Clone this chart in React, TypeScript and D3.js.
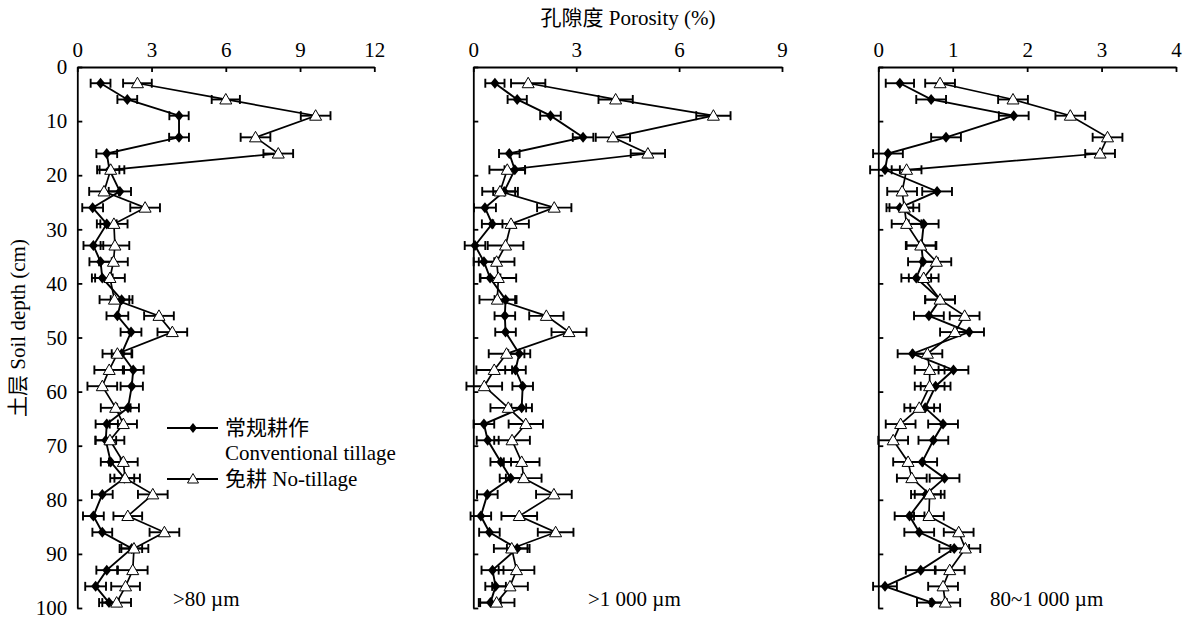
import React, { useEffect, useRef } from 'react';
import * as d3 from 'd3';

// profondeur des échantillons (cm)
const depths = [3, 6, 9, 13, 16, 19, 23, 26, 29, 33, 36, 39, 43, 46, 49, 53, 56, 59, 63, 66, 69, 73, 76, 79, 83, 86, 89, 93, 96, 99];

// >80 µm
const p1Conv = [0.94, 2.02, 4.11, 4.11, 1.19, 1.3, 1.72, 0.62, 1.19, 0.65, 0.94, 1.01, 1.79, 1.62, 2.17, 1.79, 2.26, 2.2, 2.05, 1.19, 1.15, 1.35, 1.9, 1.01, 0.65, 1.01, 2.2, 1.19, 0.74, 1.28];
const p1ConvErr = [0.4, 0.4, 0.39, 0.4, 0.42, 0.4, 0.45, 0.42, 0.4, 0.4, 0.45, 0.42, 0.44, 0.44, 0.42, 0.4, 0.42, 0.45, 0.44, 0.45, 0.42, 0.4, 0.4, 0.42, 0.42, 0.4, 0.42, 0.42, 0.42, 0.4];
const p1NT = [2.43, 6.0, 9.63, 7.2, 8.12, 1.35, 1.08, 2.74, 1.48, 1.52, 1.46, 1.32, 1.5, 3.3, 3.84, 1.62, 1.29, 1.01, 1.55, 1.86, 1.32, 1.86, 1.93, 3.05, 2.04, 3.52, 2.29, 2.24, 1.95, 1.59];
const p1NTErr = [0.58, 0.57, 0.6, 0.6, 0.6, 0.55, 0.6, 0.6, 0.55, 0.58, 0.58, 0.6, 0.6, 0.6, 0.6, 0.6, 0.6, 0.6, 0.6, 0.55, 0.58, 0.58, 0.6, 0.6, 0.58, 0.6, 0.58, 0.6, 0.58, 0.58];

// >1 000 µm
const p2Conv = [0.63, 1.28, 2.25, 3.2, 1.05, 1.21, 0.9, 0.34, 0.55, 0.05, 0.31, 0.49, 0.94, 0.92, 0.94, 1.34, 1.23, 1.44, 1.41, 0.31, 0.42, 0.8, 1.09, 0.41, 0.22, 0.47, 1.28, 0.56, 0.65, 0.5];
const p2ConvErr = [0.28, 0.28, 0.3, 0.3, 0.3, 0.3, 0.32, 0.32, 0.3, 0.3, 0.3, 0.3, 0.32, 0.3, 0.3, 0.32, 0.3, 0.3, 0.3, 0.3, 0.32, 0.3, 0.32, 0.3, 0.3, 0.3, 0.3, 0.32, 0.3, 0.3];
const p2NT = [1.6, 4.15, 7.0, 4.07, 5.09, 0.99, 0.78, 2.36, 1.1, 0.94, 0.68, 0.73, 0.7, 2.13, 2.79, 0.97, 0.61, 0.32, 1.02, 1.53, 1.13, 1.41, 1.47, 2.35, 1.34, 2.4, 1.12, 1.26, 1.07, 0.68];
const p2NTErr = [0.5, 0.5, 0.5, 0.5, 0.5, 0.52, 0.52, 0.5, 0.52, 0.52, 0.52, 0.52, 0.52, 0.5, 0.51, 0.52, 0.52, 0.52, 0.52, 0.5, 0.52, 0.52, 0.52, 0.52, 0.52, 0.52, 0.52, 0.52, 0.52, 0.52];

// 80~1 000 µm
const p3Conv = [0.29, 0.71, 1.82, 0.91, 0.13, 0.09, 0.79, 0.29, 0.61, 0.58, 0.6, 0.51, 0.83, 0.68, 1.22, 0.46, 1.01, 0.77, 0.63, 0.87, 0.74, 0.59, 0.89, 0.64, 0.42, 0.55, 1.02, 0.57, 0.09, 0.72];
const p3ConvErr = [0.19, 0.2, 0.2, 0.2, 0.2, 0.2, 0.2, 0.18, 0.2, 0.2, 0.2, 0.2, 0.2, 0.2, 0.2, 0.2, 0.2, 0.2, 0.2, 0.2, 0.2, 0.2, 0.2, 0.2, 0.2, 0.2, 0.2, 0.2, 0.16, 0.2];
const p3NT = [0.83, 1.81, 2.58, 3.08, 2.98, 0.38, 0.32, 0.35, 0.38, 0.57, 0.78, 0.61, 0.83, 1.16, 1.03, 0.66, 0.69, 0.69, 0.55, 0.3, 0.2, 0.4, 0.45, 0.69, 0.68, 1.08, 1.17, 0.96, 0.87, 0.9];
const p3NTErr = [0.2, 0.2, 0.2, 0.2, 0.2, 0.2, 0.2, 0.2, 0.2, 0.2, 0.2, 0.2, 0.2, 0.2, 0.2, 0.2, 0.2, 0.2, 0.2, 0.2, 0.2, 0.2, 0.2, 0.2, 0.2, 0.2, 0.2, 0.2, 0.2, 0.2];

const xTicks1 = [0, 3, 6, 9, 12];
const xTicks2 = [0, 3, 6, 9];
const xTicks3 = [0, 1, 2, 3, 4];
const yTicks = [0, 10, 20, 30, 40, 50, 60, 70, 80, 90, 100];

const FONT = "'Liberation Serif', 'Times New Roman', 'Noto Sans CJK SC', serif";
const FS = 21;

const App = () => {
  const svgRef = useRef<SVGSVGElement>(null);

  useEffect(() => {
    const svg = d3.select(svgRef.current);
    svg.selectAll('*').remove();

    const y = d3.scaleLinear().domain([0, 100]).range([67, 608]);

    const panels = [
      { max: 12, range: [77.3, 374.3], ticks: xTicks1, conv: p1Conv, convErr: p1ConvErr, nt: p1NT, ntErr: p1NTErr, label: '>80 µm', lx: 173, showY: true },
      { max: 9, range: [473.3, 782], ticks: xTicks2, conv: p2Conv, convErr: p2ConvErr, nt: p2NT, ntErr: p2NTErr, label: '>1 000 µm', lx: 588, showY: false },
      { max: 4, range: [878.3, 1176], ticks: xTicks3, conv: p3Conv, convErr: p3ConvErr, nt: p3NT, ntErr: p3NTErr, label: '80~1 000 µm', lx: 990, showY: false },
    ];

    panels.forEach(p => {
      const x = d3.scaleLinear().domain([0, p.max]).range(p.range);
      const g = svg.append('g');

      // axe du haut
      const top = g.append('g')
        .attr('transform', `translate(0,${y(0)})`)
        .call(d3.axisTop(x).tickValues(p.ticks).tickSizeInner(-5).tickSizeOuter(0).tickPadding(10).tickFormat(d3.format('d')));
      // axe gauche
      const left = g.append('g')
        .attr('transform', `translate(${x(0)},0)`)
        .call(d3.axisLeft(y).tickValues(yTicks).tickSizeInner(-5).tickSizeOuter(0).tickPadding(10).tickFormat(d3.format('d')));
      if (!p.showY) left.selectAll('text').remove();

      [top, left].forEach(a => {
        a.selectAll('path, line').attr('stroke', '#000').attr('stroke-width', 1.8);
        a.selectAll('text').attr('font-family', FONT).attr('font-size', FS).attr('fill', '#000');
      });

      const line = d3.line<number>()
        .x(d => x(d))
        .y((d, i) => y(depths[i]));

      g.append('path').datum(p.conv).attr('d', line).attr('fill', 'none').attr('stroke', '#000').attr('stroke-width', 1.9);
      g.append('path').datum(p.nt).attr('d', line).attr('fill', 'none').attr('stroke', '#000').attr('stroke-width', 1.7);

      // barres d'erreur
      const errBars = (vals: number[], errs: number[]) => {
        const eb = g.append('g').attr('stroke', '#000').attr('stroke-width', 1.9).attr('fill', 'none');
        vals.forEach((v, i) => {
          const yy = y(depths[i]);
          const x1 = x(v - errs[i]);
          const x2 = x(v + errs[i]);
          eb.append('line').attr('x1', x1).attr('x2', x2).attr('y1', yy).attr('y2', yy);
          eb.append('line').attr('x1', x1).attr('x2', x1).attr('y1', yy - 4.5).attr('y2', yy + 4.5);
          eb.append('line').attr('x1', x2).attr('x2', x2).attr('y1', yy - 4.5).attr('y2', yy + 4.5);
        });
      };
      errBars(p.conv, p.convErr);
      errBars(p.nt, p.ntErr);

      g.selectAll('.dia')
        .data(p.conv)
        .enter()
        .append('path')
        .attr('d', 'M0,-5.5L4.5,0L0,5.5L-4.5,0Z')
        .attr('transform', (d, i) => `translate(${x(d)},${y(depths[i])})`)
        .attr('fill', '#000');

      g.selectAll('.tri')
        .data(p.nt)
        .enter()
        .append('path')
        .attr('d', 'M0,-6L6,4.5L-6,4.5Z')
        .attr('transform', (d, i) => `translate(${x(d)},${y(depths[i])})`)
        .attr('fill', '#fff')
        .attr('stroke', '#000')
        .attr('stroke-width', 1);

      g.append('text')
        .attr('x', p.lx)
        .attr('y', 606)
        .attr('font-family', FONT)
        .attr('font-size', FS)
        .text(p.label);
    });

    // titres
    svg.append('text')
      .attr('x', 628)
      .attr('y', 25)
      .attr('text-anchor', 'middle')
      .attr('font-family', FONT)
      .attr('font-size', FS)
      .text('孔隙度 Porosity (%)');

    svg.append('text')
      .attr('transform', 'translate(25,328) rotate(-90)')
      .attr('text-anchor', 'middle')
      .attr('font-family', FONT)
      .attr('font-size', FS)
      .text('土层 Soil depth (cm)');

    // légende
    const leg = svg.append('g');
    leg.append('line').attr('x1', 167).attr('x2', 218).attr('y1', 428).attr('y2', 428).attr('stroke', '#000').attr('stroke-width', 1.9);
    leg.append('path').attr('d', 'M0,-5L4,0L0,5L-4,0Z').attr('transform', 'translate(193,428)').attr('fill', '#000');
    leg.append('line').attr('x1', 167).attr('x2', 218).attr('y1', 479).attr('y2', 479).attr('stroke', '#000').attr('stroke-width', 1.9);
    leg.append('path').attr('d', 'M0,-5.5L5.5,4L-5.5,4Z').attr('transform', 'translate(193,479)').attr('fill', '#fff').attr('stroke', '#000');
    leg.append('text').attr('x', 225).attr('y', 435).attr('font-family', FONT).attr('font-size', FS).text('常规耕作');
    leg.append('text').attr('x', 225).attr('y', 460).attr('font-family', FONT).attr('font-size', FS).text('Conventional tillage');
    leg.append('text').attr('x', 225).attr('y', 486).attr('font-family', FONT).attr('font-size', FS).text('免耕 No-tillage');
  }, []);

  return (
    <svg ref={svgRef} width={1186} height={618} style={{ position: 'absolute', left: 0, top: 0, background: '#fff' }}></svg>
  );
};

export default App;
